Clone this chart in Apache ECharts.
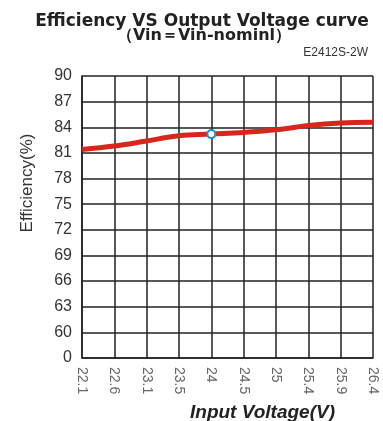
<!DOCTYPE html>
<html><head><meta charset="utf-8">
<script src="https://cdn.jsdelivr.net/npm/echarts@6/dist/echarts.min.js"></script>
<style>html,body{margin:0;padding:0;background:#fff}#c{width:383px;height:421px}</style>
</head><body><div id="c"></div>
<script>
const categories = ['22.1','22.6','23.1','23.5','24','24.5','25','25.4','25.9','26.4'];
const efficiency = [81.4, 81.8, 82.4, 83.0, 83.2, 83.4, 83.7, 84.2, 84.5, 84.6];
const markedIndex = 4;
const yMin = 57, yMax = 90, yStep = 3;
const titleText = 'Efficiency VS Output Voltage curve';
const subtitleText = '（Vin＝Vin-nominl）';
const modelText = 'E2412S-2W';

const chart = echarts.init(document.getElementById('c'));
const lineData = efficiency.map((v, i) => i === markedIndex
  ? {value: v, symbol: 'circle', symbolSize: 8, itemStyle: {color: '#fff', borderColor: '#1a8fd6', borderWidth: 2}}
  : {value: v, symbol: 'none'});
chart.setOption({
  animation: false,
  graphic: [
    {type: 'text', x: 202, y: 22,
     style: {text: titleText, fontFamily: 'DejaVu Sans', fontSize: 17, fontWeight: 'bold', fill: '#222',
       textAlign: 'center', textVerticalAlign: 'middle'}},
    {type: 'text', x: 204, y: 36,
     style: {text: subtitleText, fontFamily: 'DejaVu Sans', fontSize: 16, fontWeight: 'bold', fill: '#222',
       textAlign: 'center', textVerticalAlign: 'middle'}},
    {type: 'text', x: 368, y: 53,
     style: {text: modelText, fontFamily: 'Liberation Sans, Arial', fontSize: 12, fill: '#333',
       textAlign: 'right', textVerticalAlign: 'middle'}},
    {type: 'text', x: 27, y: 183, rotation: Math.PI / 2,
     style: {text: 'Efficiency(%)', fontFamily: 'Liberation Sans, Arial', fontSize: 17, fill: '#333',
       textAlign: 'center', textVerticalAlign: 'middle'}}
  ],
  grid: {left: 82, right: 10, top: 76, bottom: 63, outerBoundsMode: 'none', containLabel: false},
  xAxis: {
    type: 'category', data: categories, boundaryGap: false,
    name: 'Input Voltage(V)', nameLocation: 'middle', nameGap: 45,
    nameTextStyle: {fontFamily: 'Liberation Sans, Arial', fontSize: 19, fontWeight: 'bold', fontStyle: 'italic', color: '#222', padding: [0,0,0,70]},
    axisLine: {show: true, lineStyle: {color: '#222', width: 1.5}},
    axisTick: {show: false},
    axisLabel: {rotate: -90, margin: 9, color: '#666', fontSize: 14, fontFamily: 'Liberation Sans, Arial', interval: 0},
    splitLine: {show: true, lineStyle: {color: '#222', width: 1.5}}
  },
  yAxis: {
    type: 'value', min: yMin, max: yMax, interval: yStep,
    axisLine: {show: true, lineStyle: {color: '#222', width: 1.5}},
    axisTick: {show: false},
    axisLabel: {margin: 10, color: '#333', fontSize: 16, fontFamily: 'Liberation Sans, Arial',
      formatter: v => v === yMin ? '0' : String(v)},
    splitLine: {show: true, lineStyle: {color: '#222', width: 1.5}}
  },
  series: [{
    type: 'line', data: lineData, smooth: 0.4, showSymbol: true,
    lineStyle: {color: '#d8261c', width: 5},
    itemStyle: {color: '#d8261c'}, z: 3
  }]
});
</script></body></html>
